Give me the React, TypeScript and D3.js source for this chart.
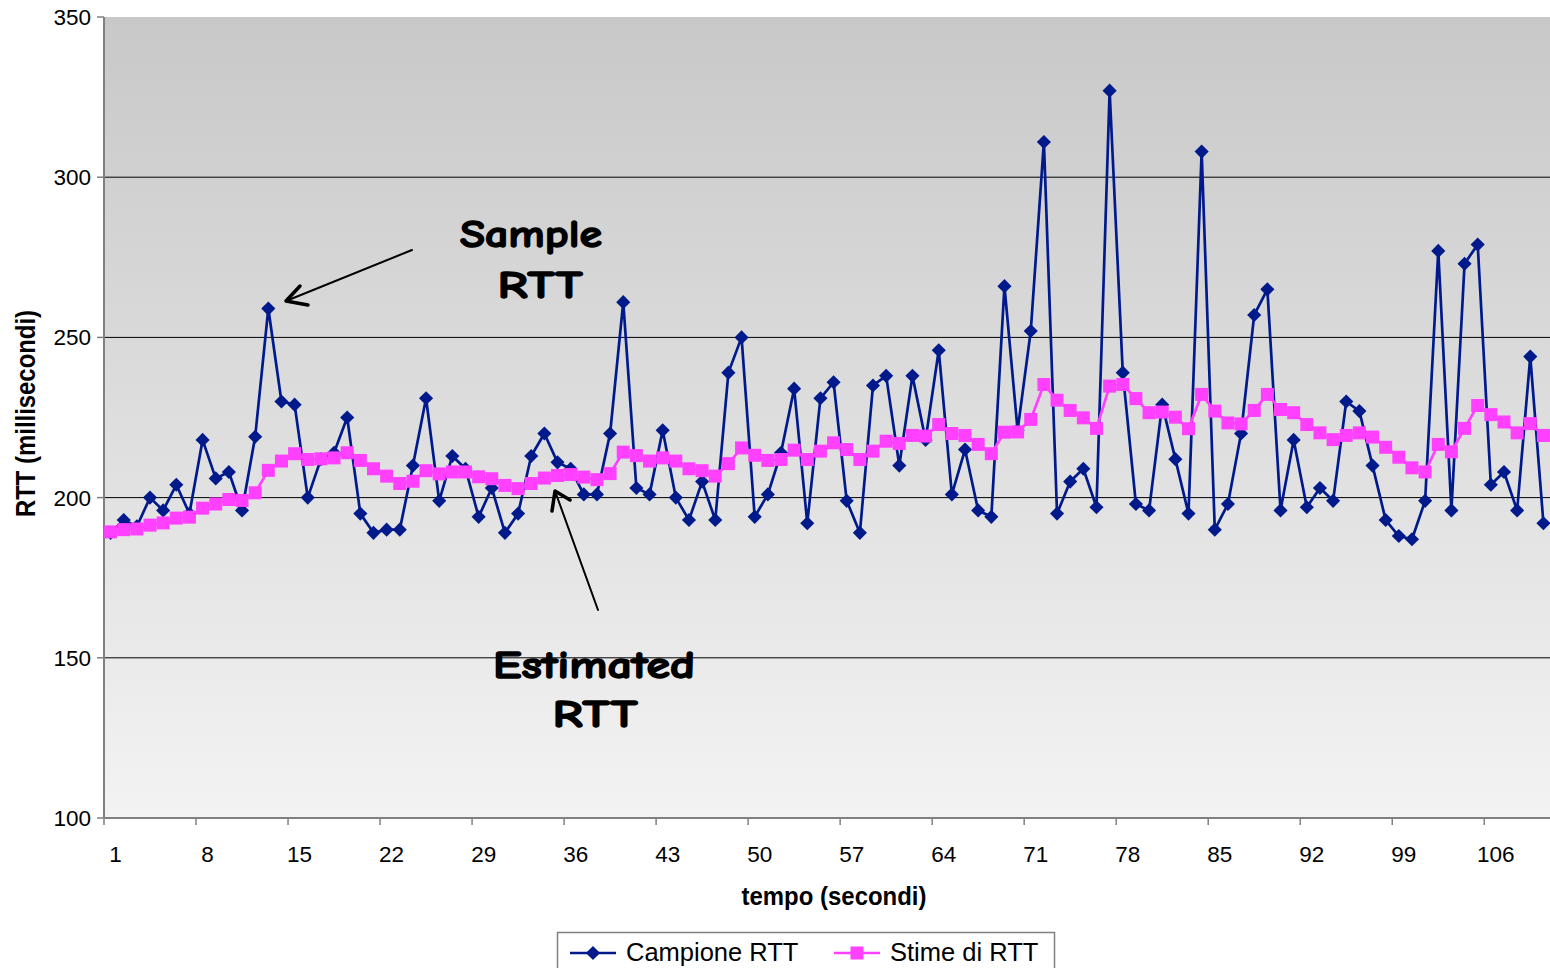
import React from "react";
import * as d3 from "d3";

const categories: number[] = Array.from({ length: 110 }, (_, i) => i + 1);
const xTickLabels: number[] = [1, 8, 15, 22, 29, 36, 43, 50, 57, 64, 71, 78, 85, 92, 99, 106];
const yTicks: number[] = [100, 150, 200, 250, 300, 350];

const sampleRTT: number[] = [
  189, 193, 191, 200, 196, 204, 195, 218, 206, 208,
  196, 219, 259, 230, 229, 200, 212, 214, 225, 195,
  189, 190, 190, 210, 231, 199, 213, 209, 194, 203,
  189, 195, 213, 220, 211, 209, 201, 201, 220, 261,
  203, 201, 221, 200, 193, 205, 193, 239, 250, 194,
  201, 214, 234, 192, 231, 236, 199, 189, 235, 238,
  210, 238, 218, 246, 201, 215, 196, 194, 266, 221,
  252, 311, 195, 205, 209, 197, 327, 239, 198, 196,
  229, 212, 195, 308, 190, 198, 220, 257, 265, 196,
  218, 197, 203, 199, 230, 227, 210, 193, 188, 187,
  199, 277, 196, 273, 279, 204, 208, 196, 244, 192,
];

const estimatedRTT: number[] = [
  189.3, 190, 190.2, 191.4, 192.1, 193.6, 193.9, 196.7, 198, 199.4,
  199.1, 201.5, 208.5, 211.4, 213.7, 211.9, 212.1, 212.4, 214, 211.6,
  209, 206.7, 204.4, 205.1, 208.4, 207.4, 208, 208, 206.5, 205.9,
  203.8, 202.8, 204.4, 206.1, 206.9, 207.2, 206.4, 205.6, 207.5, 214.2,
  213.1, 211.4, 212.4, 211.4, 209, 208.4, 206.7, 210.6, 215.5, 213.2,
  211.6, 211.9, 214.8, 211.9, 214.5, 217.1, 215, 211.9, 214.5, 217.6,
  216.9, 219.4, 219.2, 222.8, 220, 219.4, 216.6, 213.7, 220.4, 220.5,
  224.4, 235.3, 230.4, 227.2, 224.9, 221.6, 234.8, 235.3, 230.9, 226.5,
  226.7, 225.1, 221.5, 232.2, 227, 223.3, 223, 227.2, 232.2, 227.5,
  226.5, 222.8, 220.2, 218.1, 219.4, 220.2, 218.9, 215.7, 212.6, 209.3,
  208, 216.6, 214.3, 221.6, 228.75, 225.9, 223.6, 220.2, 223.1, 219.4,
];

const seriesNames = ["Campione RTT", "Stime di RTT"];

const W = 1550;
const H = 968;
const left = 104;
const right = 1550;
const top = 17;
const bottom = 818;

const BLUE = "#001a8c";
const PINK = "#ff40ff";
const AXIS = "#808080";
const ANNOT_FONT = "'Comic Sans MS', 'Comic Neue', 'DejaVu Sans', sans-serif";
const FONT = "'Liberation Sans', Arial, sans-serif";

export default function App() {
  const x = d3.scaleBand<number>().domain(categories).range([left, right]).padding(0);
  const cx = (c: number) => (x(c) as number) + x.bandwidth() / 2;
  const y = d3.scaleLinear().domain([100, 350]).range([bottom, top]);

  const line = d3
    .line<number>()
    .x((_, i) => cx(categories[i]))
    .y((d) => y(d));

  const diamond = d3.symbol().type(d3.symbolSquare).size(100)() as string;
  const square = d3.symbol().type(d3.symbolSquare).size(169)() as string;

  const tickBoundaries = xTickLabels.map((c) => x(c) as number);

  const annot = [
    { t: "Sample", x: 531, y: 247, w: 142 },
    { t: "RTT", x: 540, y: 298, w: 85 },
    { t: "Estimated", x: 594, y: 678, w: 202 },
    { t: "RTT", x: 595, y: 727, w: 85 },
  ];

  return (
    <svg
      width={W}
      height={H}
      style={{ position: "absolute", left: 0, top: 0, display: "block" }}
      fontFamily={FONT}
    >
      <defs>
        <linearGradient id="bg" x1="0" y1="0" x2="0" y2="1">
          <stop offset="0" stopColor="#c8c8c8" />
          <stop offset="1" stopColor="#f3f3f3" />
        </linearGradient>
        <clipPath id="plotclip">
          <rect x={left} y={0} width={right - left} height={bottom + 10} />
        </clipPath>
      </defs>
      <rect x={0} y={0} width={W} height={H} fill="#ffffff" />
      <rect x={left} y={top} width={right - left} height={bottom - top} fill="url(#bg)" />

      {yTicks
        .filter((t) => t !== 100 && t !== 350)
        .map((t) => (
          <line key={t} x1={left} x2={right} y1={y(t)} y2={y(t)} stroke="#000" strokeWidth={1} />
        ))}

      <line x1={left} x2={left} y1={top} y2={bottom} stroke={AXIS} strokeWidth={2} />
      {yTicks.map((t) => (
        <g key={"yt" + t}>
          <line x1={left - 7} x2={left} y1={y(t)} y2={y(t)} stroke={AXIS} strokeWidth={1.5} />
          <text x={91} y={y(t) + 8} textAnchor="end" fontSize={22.5} fill="#000">
            {t}
          </text>
        </g>
      ))}

      <line x1={left} x2={right} y1={bottom} y2={bottom} stroke={AXIS} strokeWidth={2} />
      {tickBoundaries.map((bx, i) => (
        <line key={"xt" + i} x1={bx} x2={bx} y1={bottom} y2={bottom + 7} stroke={AXIS} strokeWidth={1.5} />
      ))}
      {xTickLabels.map((c) => (
        <text key={"xl" + c} x={cx(c) + 5} y={862} textAnchor="middle" fontSize={22.5} fill="#000">
          {c}
        </text>
      ))}

      <text
        x={834}
        y={905}
        textAnchor="middle"
        fontSize={26}
        fontWeight="bold"
        textLength={185}
        lengthAdjust="spacingAndGlyphs"
      >
        tempo (secondi)
      </text>
      <text
        transform="translate(35,413.5) rotate(-90)"
        textAnchor="middle"
        fontSize={27}
        fontWeight="bold"
        textLength={207}
        lengthAdjust="spacingAndGlyphs"
      >
        RTT (millisecondi)
      </text>

      <g clipPath="url(#plotclip)">
        <path d={line(sampleRTT) as string} fill="none" stroke={BLUE} strokeWidth={2.7} strokeLinejoin="round" />
        {sampleRTT.map((v, i) => (
          <path
            key={"s" + i}
            d={diamond}
            transform={`translate(${cx(categories[i])},${y(v)}) rotate(45)`}
            fill={BLUE}
          />
        ))}
        <path d={line(estimatedRTT) as string} fill="none" stroke={PINK} strokeWidth={2.7} strokeLinejoin="round" />
        {estimatedRTT.map((v, i) => (
          <path key={"e" + i} d={square} transform={`translate(${cx(categories[i])},${y(v)})`} fill={PINK} />
        ))}
      </g>

      <g
        fontFamily={ANNOT_FONT}
        fontWeight="bold"
        fontSize={38}
        fill="#000"
        stroke="#000"
        strokeWidth={1.4}
        strokeLinejoin="round"
        textAnchor="middle"
      >
        {annot.map((a, i) => (
          <text key={"a" + i} x={a.x} y={a.y} textLength={a.w} lengthAdjust="spacingAndGlyphs">
            {a.t}
          </text>
        ))}
      </g>
      <g stroke="#000" fill="none" strokeLinecap="round" strokeLinejoin="round">
        <line x1={412} y1={250} x2={286} y2={301} strokeWidth={2} />
        <polyline points="300,286 286,301 308,305" strokeWidth={3.5} />
        <line x1={598} y1={610} x2={555} y2={491} strokeWidth={2} />
        <polyline points="552,511 555,491 570,500" strokeWidth={3.5} />
      </g>

      <rect x={557.5} y={932.5} width={497} height={40} fill="#fff" stroke={AXIS} strokeWidth={1.5} />
      <line x1={570} x2={616} y1={953} y2={953} stroke={BLUE} strokeWidth={2.5} />
      <path d={diamond} transform="translate(593,953) rotate(45)" fill={BLUE} />
      <text x={626} y={961} fontSize={25.5} fill="#000">{seriesNames[0]}</text>
      <line x1={834} x2={880} y1={953} y2={953} stroke={PINK} strokeWidth={2.5} />
      <path d={square} transform="translate(857,953)" fill={PINK} />
      <text x={890} y={961} fontSize={25.5} fill="#000">{seriesNames[1]}</text>
    </svg>
  );
}
